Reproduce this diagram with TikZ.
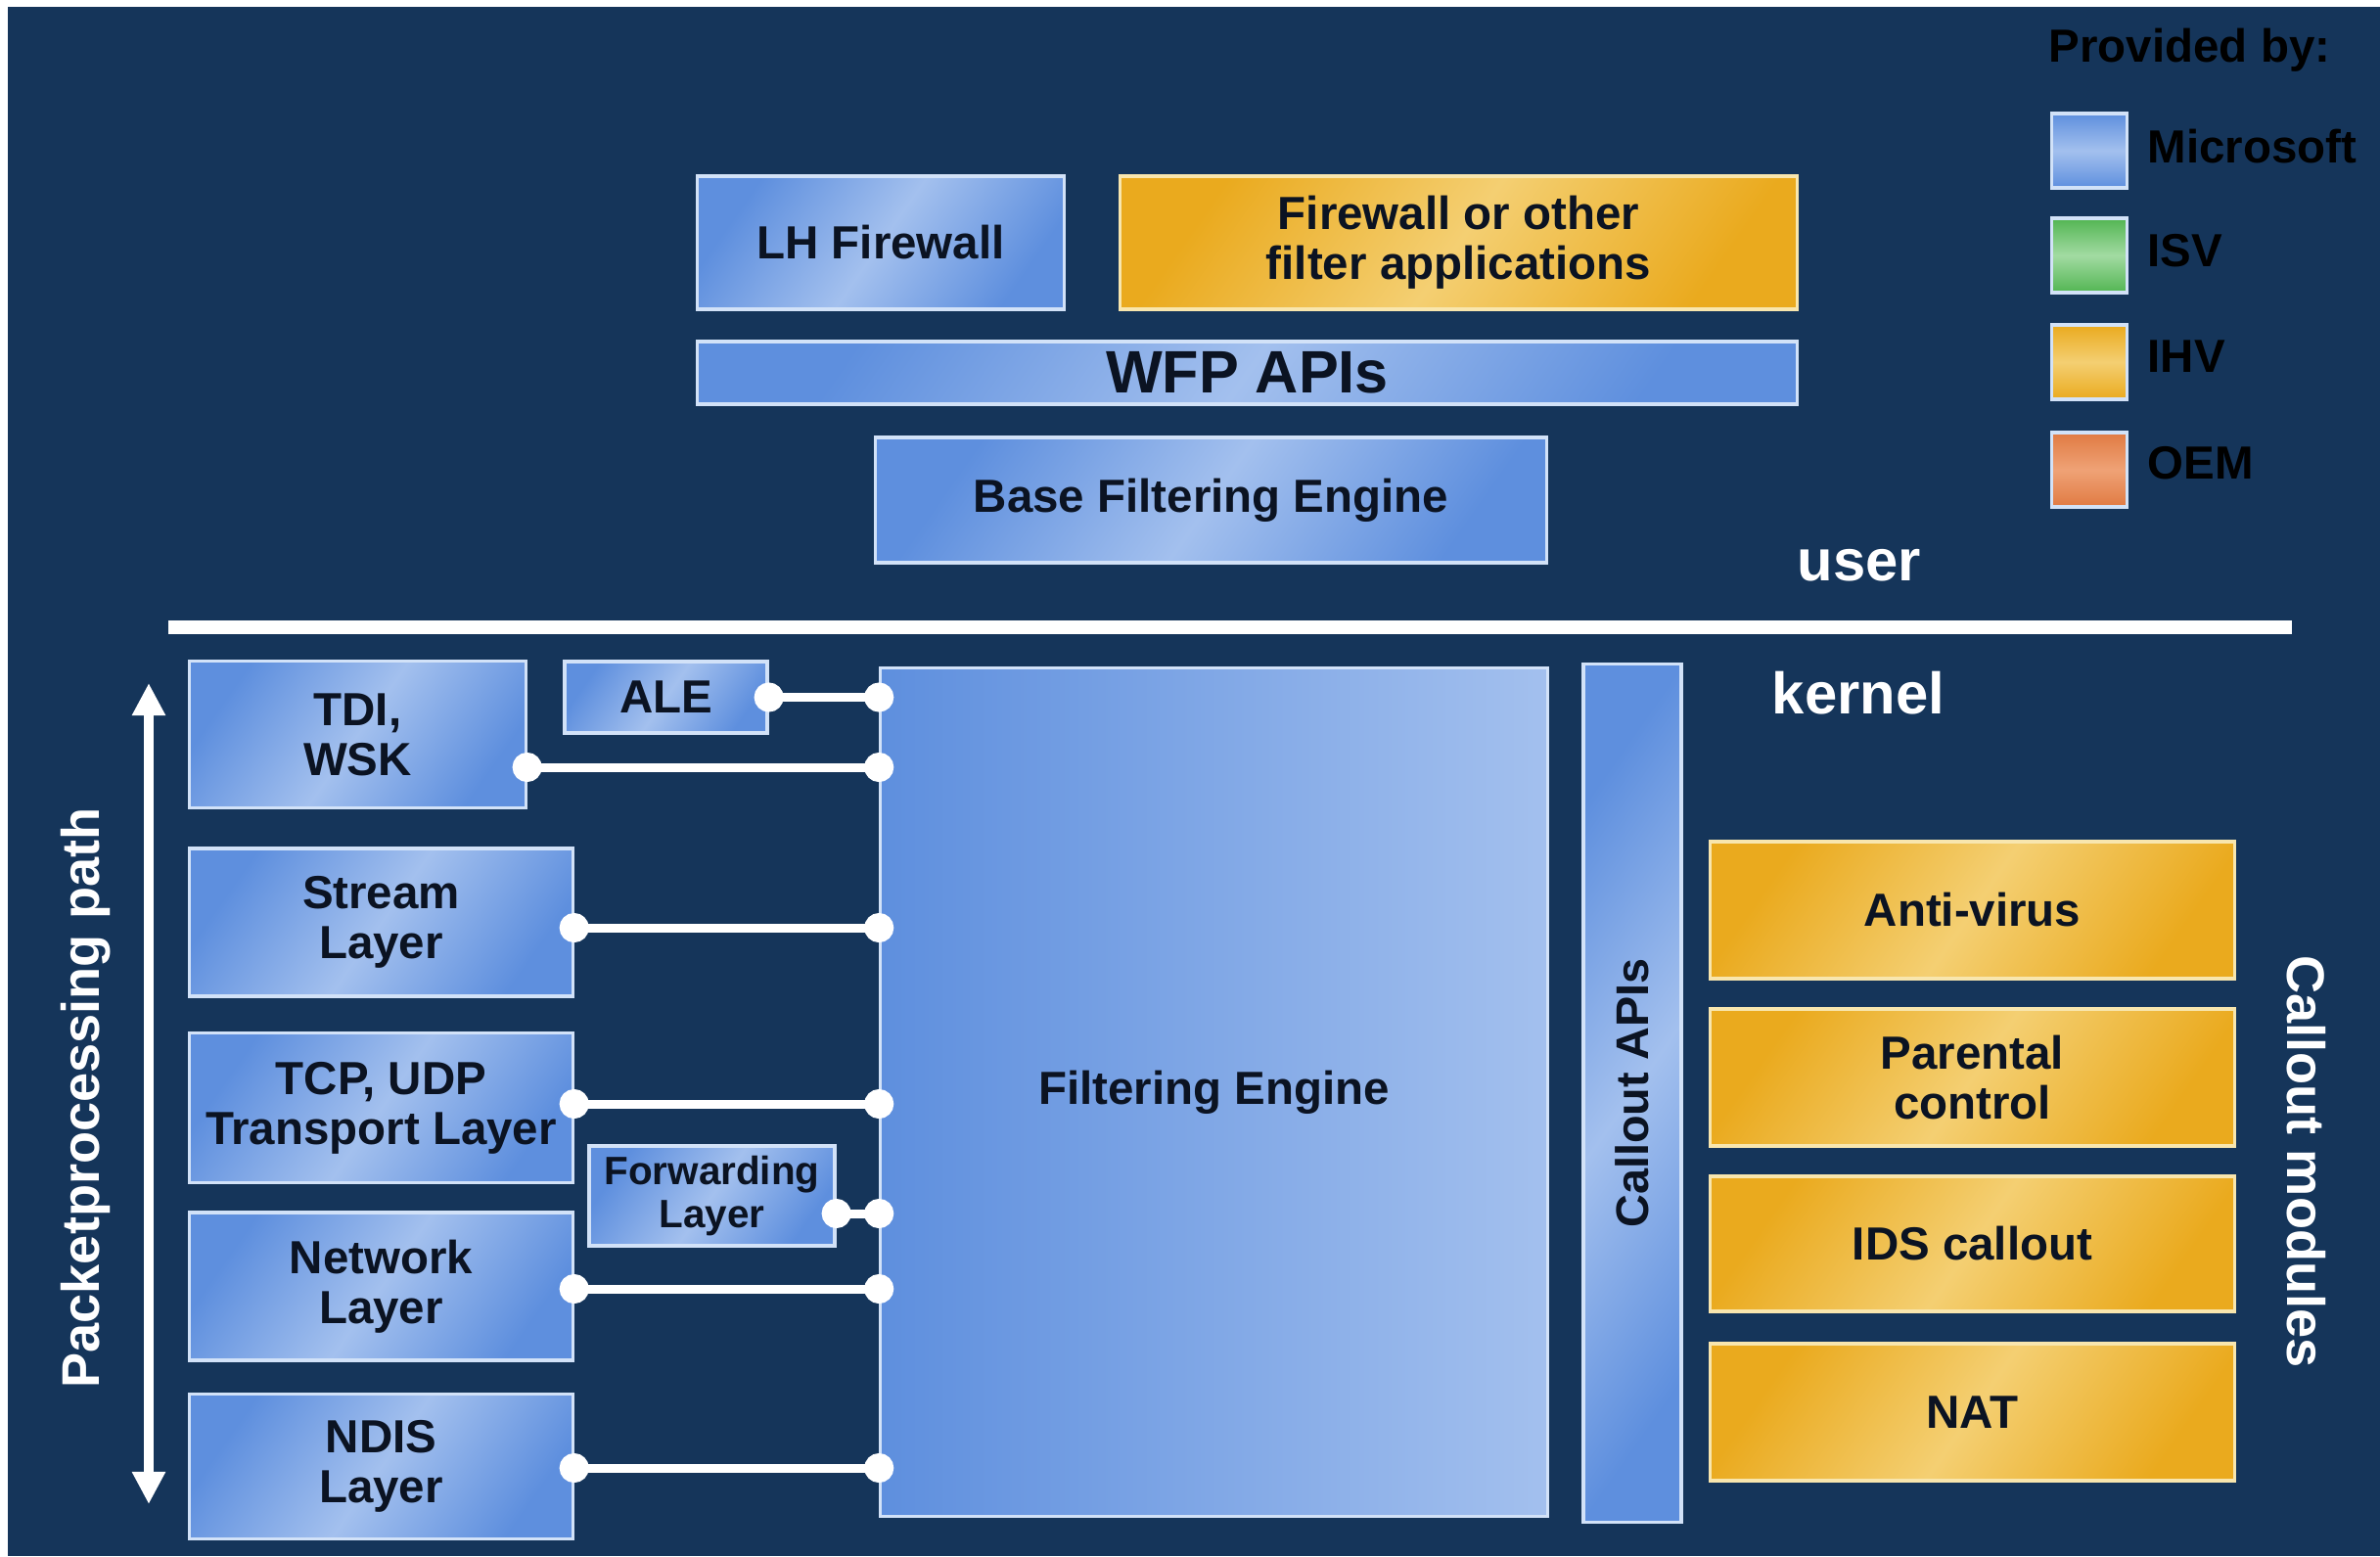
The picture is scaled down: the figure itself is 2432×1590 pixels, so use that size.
\documentclass[tikz,border=0pt]{standalone}
\usepackage{fontspec}
\setmainfont{Liberation Sans}
\usetikzlibrary{arrows.meta}
\definecolor{bgc}{HTML}{15355A}
\definecolor{msA}{HTML}{5E8FDE}
\definecolor{msL}{HTML}{A3C0EE}
\definecolor{msedge}{HTML}{D2E2F8}
\definecolor{orA}{HTML}{EAAA1E}
\definecolor{orL}{HTML}{F4CF72}
\definecolor{oredge}{HTML}{F8E6AE}
\definecolor{gnA}{HTML}{52B552}
\definecolor{gnL}{HTML}{A2DBA2}
\definecolor{oeA}{HTML}{E07A42}
\definecolor{oeL}{HTML}{EFA276}
\definecolor{boxtxt}{HTML}{0B1322}
\tikzset{
  base/.style={inner sep=0pt, align=center, text=boxtxt, line width=0.9pt,
    font=\bfseries\fontsize{13.5}{14.5}\selectfont},
  msbox/.style={base, draw=msedge, top color=msA, bottom color=msA, middle color=msL, shading angle=55},
  febox/.style={base, draw=msedge, left color=msA, right color=msL},
  orbox/.style={base, draw=oredge, top color=orA, bottom color=orA, middle color=orL, shading angle=55},
  legsq/.style={draw=msedge, line width=1pt, inner sep=0pt, minimum width=0.77cm, minimum height=0.76cm, shading angle=55},
  legtxt/.style={anchor=west, text=black, inner sep=0pt, font=\bfseries\fontsize{13.5}{15}\selectfont},
  wtxt/.style={text=white, inner sep=0pt, font=\bfseries\fontsize{17}{19}\selectfont},
  conn/.style={draw=white, line width=0.09cm,
    {Circle[length=0.3cm,width=0.3cm]}-{Circle[length=0.3cm,width=0.3cm]},
    shorten <=-0.15cm, shorten >=-0.15cm},
}
\begin{document}
\begin{tikzpicture}[x=0.01cm,y=-0.01cm]
\fill[white] (0,0) rectangle (2432,1590);
\fill[bgc] (8,7) rectangle (2432,1590);
\useasboundingbox (0,0) rectangle (2432,1590);

% legend
\node[legtxt] (prov) at (2093,51) {Provided by:};
\node[legsq, top color=msA, bottom color=msA, middle color=msL] (sqms) at (2135,154) {};
\node[legsq, top color=gnA, bottom color=gnA, middle color=gnL] (sqisv) at (2135,261) {};
\node[legsq, top color=orA, bottom color=orA, middle color=orL] (sqihv) at (2135,370) {};
\node[legsq, top color=oeA, bottom color=oeA, middle color=oeL] (sqoem) at (2135,480) {};
\node[legtxt] (lms) at (2194,150) {Microsoft};
\node[legtxt] (lisv) at (2194,256) {ISV};
\node[legtxt] (lihv) at (2194,364) {IHV};
\node[legtxt] (loem) at (2194,473) {OEM};

% user space
\node[msbox, minimum width=3.74cm, minimum height=1.36cm] (lh) at (900,248) {LH Firewall};
\node[orbox, minimum width=6.91cm, minimum height=1.36cm] (fw) at (1490.5,248) {Firewall or other\\filter applications};
\node[msbox, minimum width=11.23cm, minimum height=0.64cm, font=\bfseries\fontsize{17.4}{19}\selectfont] (wfp) at (1274.5,381) {WFP APIs};
\node[msbox, minimum width=6.85cm, minimum height=1.28cm] (bfe) at (1237.5,511) {Base Filtering Engine};

\node[wtxt] (user) at (1900,578) {user};
\coordinate (divL) at (172,641);
\coordinate (divR) at (2342,641);
\draw[white, line width=0.14cm] (divL) -- (divR);
\node[wtxt] (kernel) at (1899,708) {kernel};

% kernel layers
\node[msbox, minimum width=3.43cm, minimum height=1.50cm] (tdi) at (365.5,750.5) {TDI,\\WSK};
\node[msbox, minimum width=2.07cm, minimum height=0.73cm] (ale) at (680.5,712.5) {ALE};
\node[febox, minimum width=6.81cm, minimum height=8.67cm] (fe) at (1240.5,1116) {Filtering Engine};
\node[msbox, minimum width=1.00cm, minimum height=8.76cm] (capi) at (1668,1117) {};
\node[text=boxtxt, rotate=90, inner sep=0pt, font=\bfseries\fontsize{13.3}{14}\selectfont] (capit) at (capi.center) {Callout APIs};
\node[msbox, minimum width=3.91cm, minimum height=1.51cm] (stream) at (389.5,942.5) {Stream\\Layer};
\node[msbox, minimum width=3.91cm, minimum height=1.53cm] (tcp) at (389.5,1132) {TCP, UDP\\Transport Layer};
\node[msbox, minimum width=2.51cm, minimum height=1.02cm, font=\bfseries\fontsize{11.5}{12.4}\selectfont] (fwd) at (727.5,1222) {Forwarding\\Layer};
\node[msbox, minimum width=3.91cm, minimum height=1.51cm] (net) at (389.5,1314.5) {Network\\Layer};
\node[msbox, minimum width=3.91cm, minimum height=1.48cm] (ndis) at (389.5,1498.5) {NDIS\\Layer};

% connectors
\draw[conn] (ale.east) -- (ale.east -| fe.west);
\draw[conn] (tdi.east |- 0,784) -- (fe.west |- 0,784);
\draw[conn] (stream.east |- 0,948) -- (fe.west |- 0,948);
\draw[conn] (tcp.east |- 0,1128) -- (fe.west |- 0,1128);
\draw[conn] (fwd.east |- 0,1240) -- (fe.west |- 0,1240);
\draw[conn] (net.east |- 0,1317) -- (fe.west |- 0,1317);
\draw[conn] (ndis.east |- 0,1500) -- (fe.west |- 0,1500);

% packet processing path
\coordinate (arrT) at (152,698);
\coordinate (arrB) at (152,1537);
\draw[white, line width=0.1cm, {Triangle[width=0.32cm,length=0.33cm]}-{Triangle[width=0.32cm,length=0.33cm]}] (arrT) -- (arrB);
\node[text=white, rotate=90, inner sep=0pt, font=\bfseries\fontsize{15.4}{17}\selectfont] (ppp) at (88,1122) {Packetprocessing path};

% callout modules
\node[orbox, minimum width=5.36cm, minimum height=1.40cm] (av) at (2015.5,930) {Anti-virus};
\node[orbox, minimum width=5.36cm, minimum height=1.40cm] (pc) at (2015.5,1101) {Parental\\control};
\node[orbox, minimum width=5.36cm, minimum height=1.38cm] (ids) at (2015.5,1271) {IDS callout};
\node[orbox, minimum width=5.36cm, minimum height=1.40cm] (nat) at (2015.5,1443) {NAT};
\node[text=white, rotate=-90, inner sep=0pt, font=\bfseries\fontsize{15.4}{17}\selectfont] (cm) at (2357,1187) {Callout modules};
\end{tikzpicture}
\end{document}
